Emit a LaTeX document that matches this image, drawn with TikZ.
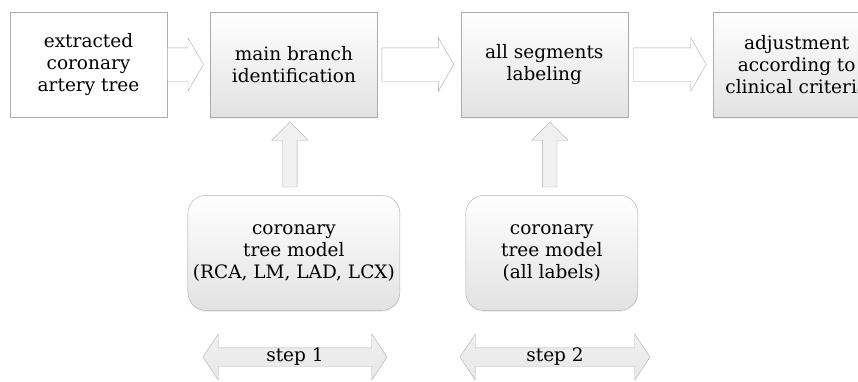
\documentclass[tikz,border=0pt]{standalone}
\usepackage{fontspec}
\setmainfont{DejaVu Serif}
\usepackage{xcolor}
\usetikzlibrary{positioning, calc, shapes.arrows, shadows}
\definecolor{FlowLine}{RGB}{172,172,172}
\definecolor{FlowShade}{RGB}{226,226,226}
\definecolor{FlowFill}{RGB}{240,240,240}
\newcommand{\flowfont}{\fontsize{18.5}{22}\selectfont}
\tikzset{
    plainbox/.style={
        draw=FlowLine, fill=white, minimum width=157pt, minimum height=105pt, align=center
    },
    stagebox/.style={
        draw=FlowLine, top color=white, bottom color=FlowShade,
        minimum width=167pt, minimum height=105pt, align=center,
        drop shadow={opacity=0.12, shadow xshift=0pt, shadow yshift=-1.5pt}
    },
    modelbox/.style={
        draw=FlowLine, rounded corners=18pt, top color=white, bottom color=FlowShade,
        minimum height=115pt, align=center,
        drop shadow={opacity=0.12, shadow xshift=0pt, shadow yshift=-1.5pt}
    },
    flowarrow/.style={
        single arrow, draw=FlowLine, fill=white, inner xsep=0pt, inner ysep=16.5pt,
        single arrow head extend=10pt, single arrow tip angle=120
    },
    uparrow/.style={
        single arrow, draw=FlowLine, fill=FlowFill, inner sep=7pt, shape border rotate=90,
        single arrow head extend=11pt, single arrow tip angle=90
    }
}

\begin{document}
\begin{tikzpicture}[
        x=1pt, y=-1pt,
        font=\flowfont,
        % two-headed arrow under each step
        steparrow/.style={
            double arrow, draw=FlowLine, top color=FlowFill, bottom color=FlowShade!80,
            inner sep=0pt, minimum width=46pt,
            double arrow head extend=13.5pt, double arrow tip angle=113
        }
    ]
    \useasboundingbox (0,0) rectangle (858,381);

    % --- 1. top row of stages ---
    \node[plainbox] (extract) at (88.5,64.5) {extracted\\coronary\\artery tree};
    \node[stagebox, right=43pt of extract] (mainbr) {main branch\\identification};
    \node[stagebox, right=83pt of mainbr] (segs) {all segments\\labeling};
    \node[stagebox, right=85pt of segs] (adjust) {adjustment\\according to\\clinical criteria};

    % block arrows between the stages
    \node[flowarrow, anchor=tail, minimum height=36pt] (a1) at (extract.east) {};
    \node[flowarrow, anchor=tail, minimum height=72pt, xshift=4pt] (a2) at (mainbr.east) {};
    \node[flowarrow, anchor=tail, minimum height=73pt, xshift=5pt] (a3) at (segs.east) {};

    % --- 2. tree models ---
    \node[modelbox, minimum width=212pt, below=78pt of mainbr] (model1) {coronary\\tree model\\(RCA, LM, LAD, LCX)};
    \node[modelbox, minimum width=172pt, below=78pt of segs, xshift=7.5pt] (model2) {coronary\\tree model\\(all labels)};

    \node[uparrow, anchor=tail, minimum height=65pt, yshift=8pt, xshift=-4pt] (u1) at (model1.north) {};
    \node[uparrow, anchor=tail, minimum height=65pt, yshift=8pt, xshift=-2pt] (u2) at (model2.north) {};

    % --- 3. steps ---
    \node[steparrow, minimum height=184pt] (step1) at (295,357) {step 1};
    \node[steparrow, minimum height=190pt] (step2) at (555,357) {step 2};

\end{tikzpicture}
\end{document}
